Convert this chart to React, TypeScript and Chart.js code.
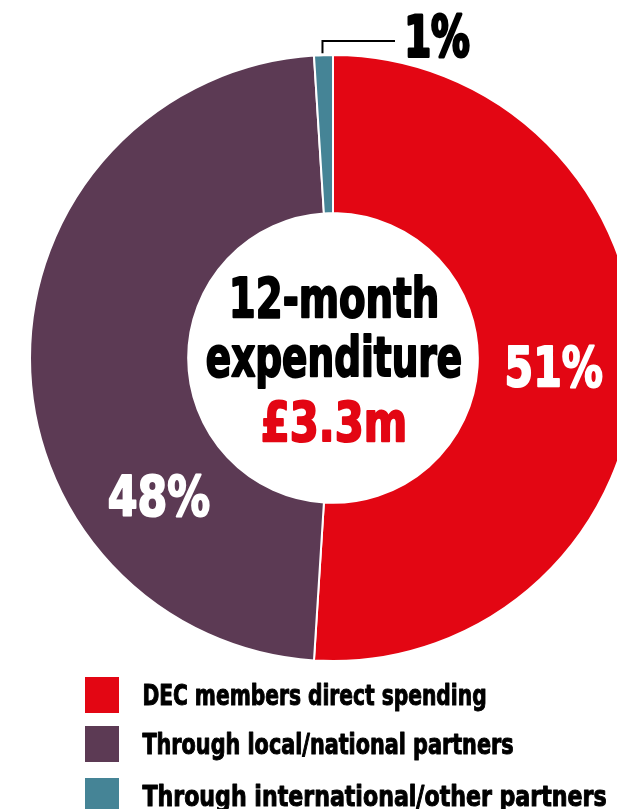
import React, { useEffect, useRef } from "react";
import { Chart, registerables } from "chart.js";

Chart.register(...registerables);

const labels = [
  "DEC members direct spending",
  "Through local/national partners",
  "Through international/other partners",
];
const values = [51, 48, 1];
const colors = ["#E30613", "#5C3A54", "#458496"];
const centerLines = ["12-month", "expenditure"];
const totalLabel = "£3.3m";
const labelFractions = [0.5, 0.28, 0.5];

const FONT = "'Liberation Sans Narrow', 'DejaVu Sans Condensed', 'Roboto Condensed', sans-serif";

function fitText(
  ctx: CanvasRenderingContext2D,
  text: string,
  x: number,
  y: number,
  size: number,
  width: number | null,
  align: "left" | "center",
  weight: number
) {
  ctx.save();
  ctx.font = `bold ${size}px ${FONT}`;
  ctx.textBaseline = "alphabetic";
  ctx.textAlign = "left";
  const w = ctx.measureText(text).width + weight;
  const sx = width ? width / w : 1;
  const realW = w * sx;
  const left = align === "center" ? x - realW / 2 : x;
  ctx.translate(left + (weight / 2) * sx, y);
  ctx.scale(sx, 1);
  ctx.fillText(text, 0, 0);
  if (weight > 0) {
    ctx.strokeStyle = ctx.fillStyle;
    ctx.lineWidth = weight;
    ctx.lineJoin = "round";
    ctx.strokeText(text, 0, 0);
  }
  ctx.restore();
}

const overlayPlugin = {
  id: "overlay",
  afterDraw(chart: any) {
    const ctx: CanvasRenderingContext2D = chart.ctx;
    const meta = chart.getDatasetMeta(0);
    const arcs = meta.data;
    const a0 = arcs[0];
    const cx = a0.x;
    const cy = a0.y;

    // center text
    ctx.fillStyle = "#000000";
    fitText(ctx, centerLines[0], cx + 1, 317, 55, 212, "center", 2);
    fitText(ctx, centerLines[1], cx + 1, 376, 55, 258, "center", 2);
    ctx.fillStyle = colors[0];
    fitText(ctx, totalLabel, cx + 1, 441, 55, 148, "center", 2);

    // percentage labels
    const pctWidths = [100, 104, 68];
    arcs.forEach((arc: any, i: number) => {
      const txt = values[i] + "%";
      if (i < 2) {
        const ang = arc.startAngle + (arc.endAngle - arc.startAngle) * labelFractions[i];
        const r = (arc.innerRadius + arc.outerRadius) / 2 - 3;
        const x = cx + Math.cos(ang) * r;
        const y = cy + Math.sin(ang) * r;
        ctx.fillStyle = "#ffffff";
        fitText(ctx, txt, x, y + 21, 56, pctWidths[i], "center", 2);
      } else {
        const ang = (arc.startAngle + arc.endAngle) / 2;
        const r = arc.outerRadius;
        const x = cx + Math.cos(ang) * r;
        const y = cy + Math.sin(ang) * r;
        ctx.save();
        ctx.strokeStyle = "#000000";
        ctx.lineWidth = 2;
        ctx.beginPath();
        ctx.moveTo(x - 1, y - 2);
        ctx.lineTo(x - 1, 41);
        ctx.lineTo(395, 41);
        ctx.stroke();
        ctx.restore();
        ctx.fillStyle = "#000000";
        fitText(ctx, txt, 403, 57, 57, pctWidths[i], "left", 3);
      }
    });

    // legend
    const rowTops = [677, 726, 778];
    const textWidths = [345, 372, 465];
    labels.forEach((lab, i) => {
      ctx.fillStyle = colors[i];
      ctx.fillRect(85, rowTops[i], 34, 36);
      ctx.fillStyle = "#000000";
      fitText(ctx, lab, 142, rowTops[i] + 28, 28, textWidths[i], "left", 1);
    });
  },
};

export default function App() {
  const ref = useRef<HTMLCanvasElement | null>(null);
  useEffect(() => {
    if (!ref.current) return;
    const chart = new Chart(ref.current, {
      type: "doughnut",
      data: {
        labels,
        datasets: [
          {
            data: values,
            backgroundColor: colors,
            borderColor: "#ffffff",
            borderWidth: 2,
          },
        ],
      },
      options: {
        animation: false,
        responsive: false,
        radius: 303,
        cutout: "47.8%",
        layout: { padding: { left: 49, right: 0, top: 0, bottom: 93 } },
        plugins: {
          legend: { display: false },
          tooltip: { enabled: false },
        },
      } as any,
      plugins: [overlayPlugin],
    });
    return () => chart.destroy();
  }, []);
  return (
    <div style={{ position: "fixed", left: 0, top: 0, width: 617, height: 809, background: "#ffffff" }}>
      <canvas ref={ref} width={617} height={809} style={{ width: 617, height: 809, display: "block" }} />
    </div>
  );
}
